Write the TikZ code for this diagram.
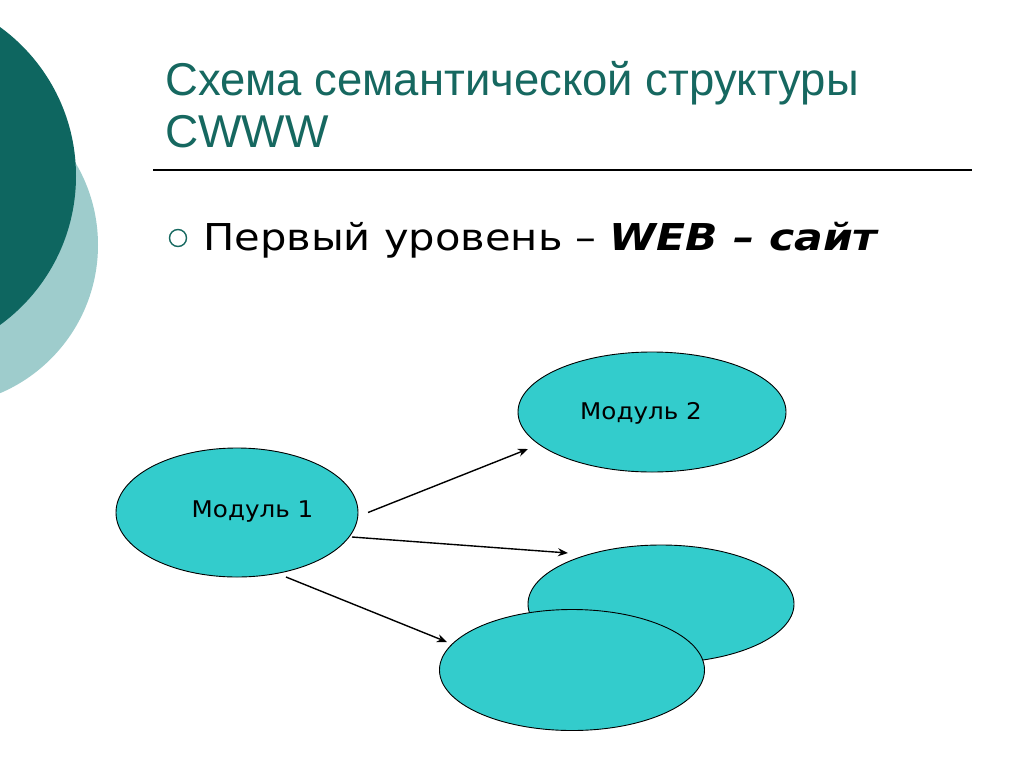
\documentclass[tikz,border=0pt]{standalone}
\usepackage{fontspec}
\setmainfont{Liberation Sans}
\newfontfamily\verd{DejaVu Sans}
\usetikzlibrary{arrows.meta,shapes.geometric}
\definecolor{darkteal}{RGB}{14,102,96}
\definecolor{lightteal}{RGB}{158,204,204}
\definecolor{titleteal}{RGB}{22,104,96}
\definecolor{turq}{RGB}{51,204,204}
\tikzset{
  modbox/.style={ellipse, draw=black, line width=0.9pt, fill=turq, inner sep=0pt},
  conn/.style={line width=1.4pt, -{Stealth[length=10pt,width=8pt]}},
  modlabel/.style={font=\verd\fontsize{23}{27}\selectfont, text=black}
}
\begin{document}
\begin{tikzpicture}[x=1pt,y=-1pt]
\useasboundingbox (0,0) rectangle (1024,768);
\fill[white] (0,0) rectangle (1024,768);
% decorative circles
\fill[lightteal] (-63,245) circle (161);
\fill[darkteal] (-108,176) circle (184);
% title
\node[anchor=base west, text=titleteal, font=\fontsize{46}{52}\selectfont, inner sep=0pt] (t1) at (165,95) {\scalebox{0.988}[1]{Схема семантической структуры}};
\node[anchor=base west, text=titleteal, font=\fontsize{46}{52}\selectfont, inner sep=0pt] (t2) at (165,147) {CWWW};
\draw[line width=1.5pt] (153,170) -- (972,170);
% bullet
\node[circle, draw=titleteal, line width=1.4pt, minimum size=17pt, inner sep=0pt] (b) at (178,238) {};
\node[anchor=base west, inner sep=0pt, font=\verd\fontsize{37}{44}\selectfont] (bt) at (203,250) {\scalebox{1.125}[1]{Первый уровень –~}\scalebox{1.15}[1]{\textbf{\textit{WEB – сайт}}}};
% ellipses
\node[modbox, minimum width=242pt, minimum height=129pt] (m1) at (237,512.5) {};
\node[modbox, minimum width=268pt, minimum height=120pt] (m2) at (652,412) {};
\node[modbox, minimum width=266pt, minimum height=118pt] (m3) at (661,604) {};
\node[modbox, minimum width=265pt, minimum height=121pt] (m4) at (572,670) {};
\node[modlabel] (l1) at (252.5,512) {\scalebox{1.07}[1]{Модуль 1}};
\node[modlabel] (l2) at (641,413) {\scalebox{1.07}[1]{Модуль 2}};
% arrow endpoints
\coordinate (s1) at (368,512.5);
\coordinate (e1) at (528,449);
\coordinate (s2) at (352,537);
\coordinate (e2) at (568,553);
\coordinate (s3) at (286,577);
\coordinate (e3) at (447,642);
\draw[conn] (s1) -- (e1);
\draw[conn] (s2) -- (e2);
\draw[conn] (s3) -- (e3);
\end{tikzpicture}
\end{document}
